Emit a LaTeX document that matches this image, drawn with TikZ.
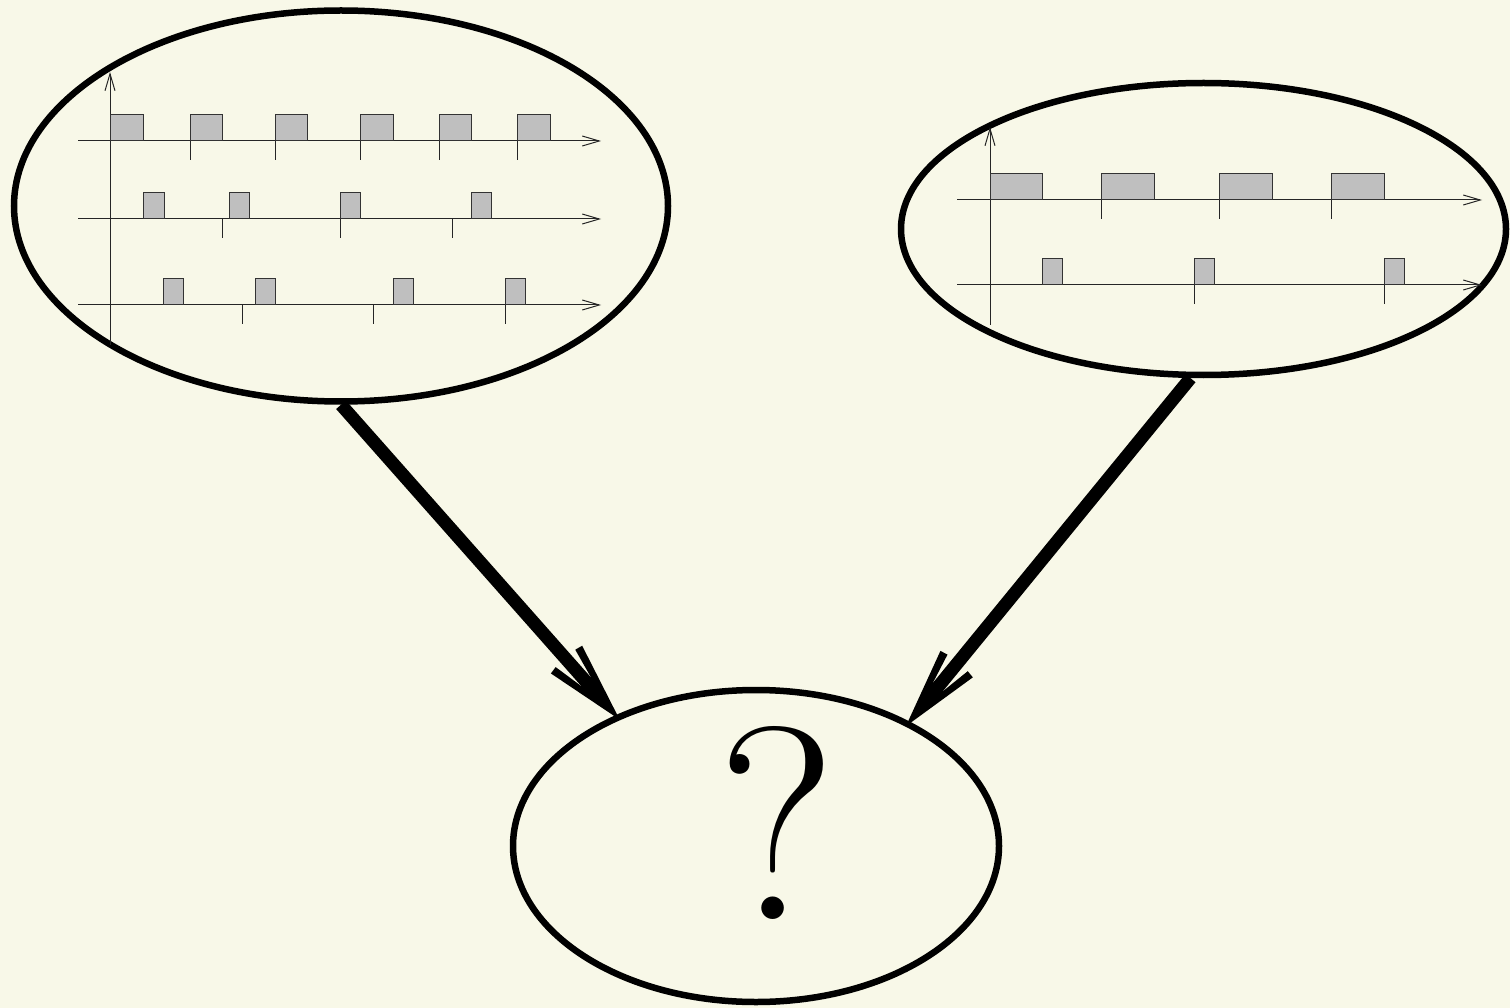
\documentclass[tikz,border=0pt]{standalone}
\usetikzlibrary{shapes.geometric,arrows.meta}
\definecolor{bgcol}{RGB}{248,248,232}
\definecolor{boxgray}{RGB}{191,191,191}
\pgfdeclarearrow{
  name=FigHead,
  setup code={
    \pgfarrowssettipend{0pt}
    \pgfarrowssetbackend{-82pt}
    \pgfarrowssetlineend{-48pt}
    \pgfarrowshullpoint{0pt}{0pt}
    \pgfarrowshullpoint{-82pt}{21pt}
    \pgfarrowshullpoint{-82pt}{-21pt}
  },
  drawing code={
    \pgfsetfillcolor{black}
    \pgfpathmoveto{\pgfpoint{0pt}{0pt}}
    \pgfpathlineto{\pgfpoint{-80.2pt}{20.9pt}}
    \pgfpathlineto{\pgfpoint{-81.8pt}{13.1pt}}
    \pgfpathlineto{\pgfpoint{-50.5pt}{6.5pt}}
    \pgfpathlineto{\pgfpoint{-50.5pt}{-6.5pt}}
    \pgfpathlineto{\pgfpoint{-81.8pt}{-13.1pt}}
    \pgfpathlineto{\pgfpoint{-80.2pt}{-20.9pt}}
    \pgfpathclose
    \pgfusepathqfill
  }
}
\tikzset{
  bubble/.style={draw=black,line width=6.5pt,shape=ellipse,inner sep=0pt},
  axisline/.style={draw=black!85,line width=1pt,-{Straight Barb[length=17pt,width=10pt,line width=1pt]}},
  tickline/.style={draw=black!85,line width=1pt},
  pulse/.style={draw=black!80,fill=boxgray,line width=1pt},
  bigarrow/.style={draw=black,line width=13pt,line cap=butt,-{FigHead},shorten >=-6pt}
}
\begin{document}
\begin{tikzpicture}[x=1pt,y=-1pt]
\fill[bgcol] (0,0) rectangle (1510,1008);
\useasboundingbox (0,0) rectangle (1510,1008);

% ellipses
\node[bubble,minimum width=654pt,minimum height=391pt] (L) at (341,206) {};
\node[bubble,minimum width=605pt,minimum height=292pt] (R) at (1203.5,229) {};
\node[bubble,minimum width=486pt,minimum height=312pt] (B) at (756,846) {};
\node[inner sep=0pt] (q) at (777,822.5) {\fontsize{275}{300}\selectfont ?};

% left diagram
\draw[axisline] (110,345) -- (110,72);
\foreach \y in {141,219,305} \draw[axisline] (78,\y) -- (601,\y);
\foreach \a/\b in {110/143,190/222,275/307,360/393,439/471,517/550}
  \draw[pulse] (\a,141) rectangle (\b,115);
\foreach \x in {190,275,360,439,517} \draw[tickline] (\x,141) -- (\x,160);
\foreach \a/\b in {143/164,229/249,340/360,471/491}
  \draw[pulse] (\a,219) rectangle (\b,193);
\foreach \x in {222,340,452} \draw[tickline] (\x,219) -- (\x,238);
\foreach \a/\b in {163/183,255/275,393/413,505/525}
  \draw[pulse] (\a,305) rectangle (\b,279);
\foreach \x in {242,373,505} \draw[tickline] (\x,305) -- (\x,324);

% right diagram
\draw[axisline] (990,325) -- (990,127);
\foreach \y in {200,285} \draw[axisline] (957,\y) -- (1482,\y);
\foreach \a/\b in {990/1042,1101/1154,1219/1272,1331/1384}
  \draw[pulse] (\a,200) rectangle (\b,174);
\foreach \x in {1101,1219,1331} \draw[tickline] (\x,200) -- (\x,219);
\foreach \a/\b in {1042/1062,1194/1214,1384/1404}
  \draw[pulse] (\a,285) rectangle (\b,259);
\foreach \x in {1194,1384} \draw[tickline] (\x,285) -- (\x,304);

% big arrows
\draw[bigarrow] (L.south) -- (B.137);
\draw[bigarrow] (R.-95) -- (B.39);
\end{tikzpicture}
\end{document}
